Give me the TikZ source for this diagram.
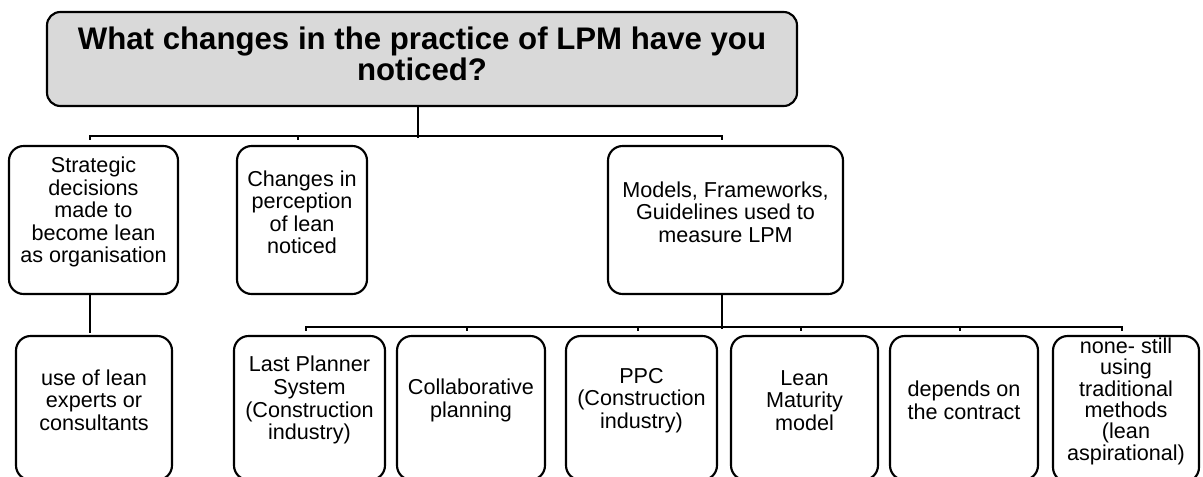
\documentclass[tikz,border=0pt]{standalone}
\usepackage{fontspec}
\setmainfont{Liberation Sans}
\usetikzlibrary{fit,calc}
\definecolor{rootgray}{HTML}{D9D9D9}
\begin{document}
\begin{tikzpicture}[x=0.75pt,y=-0.75pt,
  box/.style={draw, line width=1.6pt, rounded corners=11pt, inner sep=0pt, align=center,
    font=\fontsize{16.2}{16.9}\selectfont},
  tightbox/.style={box, font=\fontsize{16.2}{16}\selectfont},
  rootbox/.style={draw, line width=1.6pt, rounded corners=10pt, fill=rootgray, inner sep=0pt},
  titletext/.style={align=center, inner sep=0pt, font=\bfseries\fontsize{23.4}{21.6}\selectfont},
  conn/.style={line width=1.5pt}]
\useasboundingbox (0,0) rectangle (1203,476);
\clip (0,0) rectangle (1203,476);
% root
\node[rootbox, fit={(47,12)(797,106)}] (root) {};
\node[titletext] (title) at ($(root.center)+(0,-5)$) {What changes in the practice of LPM have you\\noticed?};
% level 1
\node[box, fit={(9,146)(178,294)}] (A) {Strategic\\decisions\\made to\\become lean\\as organisation};
\node[box, fit={(237,146)(367,294)}] (B) {Changes in\\perception\\of lean\\noticed};
\node[box, fit={(608,146)(843,294)}] (C) {Models, Frameworks,\\Guidelines used to\\measure LPM};
% level 2
\node[box, fit={(16,336)(172,480)}] (D) {use of lean\\experts or\\consultants};
\node[box, fit={(234,336)(385,480)}] (E) {Last Planner\\System\\(Construction\\industry)};
\node[box, fit={(397,336)(545,480)}] (F) {Collaborative\\planning};
\node[box, fit={(566,336)(717,480)}] (G) {PPC\\(Construction\\industry)};
\node[box, fit={(731,336)(878,480)}] (H) {Lean\\Maturity\\model};
\node[box, fit={(890,336)(1038,480)}] (I) {depends on\\the contract};
\node[tightbox, fit={(1053,336)(1199,482)}] (J) {none- still\\using\\traditional\\methods\\(lean\\aspirational)};
% connectors level 1
\draw[conn] ($(root.south)+(-4,0)$) -- ($(root.south)+(-4,31)$);
\draw[conn] ($(A.north)+(-4,-5)$) |- ($(C.north)+(-4,-9)$) -- ($(C.north)+(-4,-5)$);
\draw[conn] ($(B.north)+(-4,-9)$) -- ($(B.north)+(-4,-5)$);
% A to D
\draw[conn] ($(A.south)+(-4,0)$) -- ($(A.south)+(-4,38)$);
% connectors level 2
\draw[conn] ($(C.south)+(-4,0)$) -- ($(C.south)+(-4,34)$);
\draw[conn] ($(E.north)+(-4,-4)$) |- ($(J.north)+(-4,-8)$) -- ($(J.north)+(-4,-4)$);
\foreach \n in {F,G,H,I}{
  \draw[conn] ($(\n.north)+(-4,-8)$) -- ($(\n.north)+(-4,-4)$);
}
\end{tikzpicture}
\end{document}
